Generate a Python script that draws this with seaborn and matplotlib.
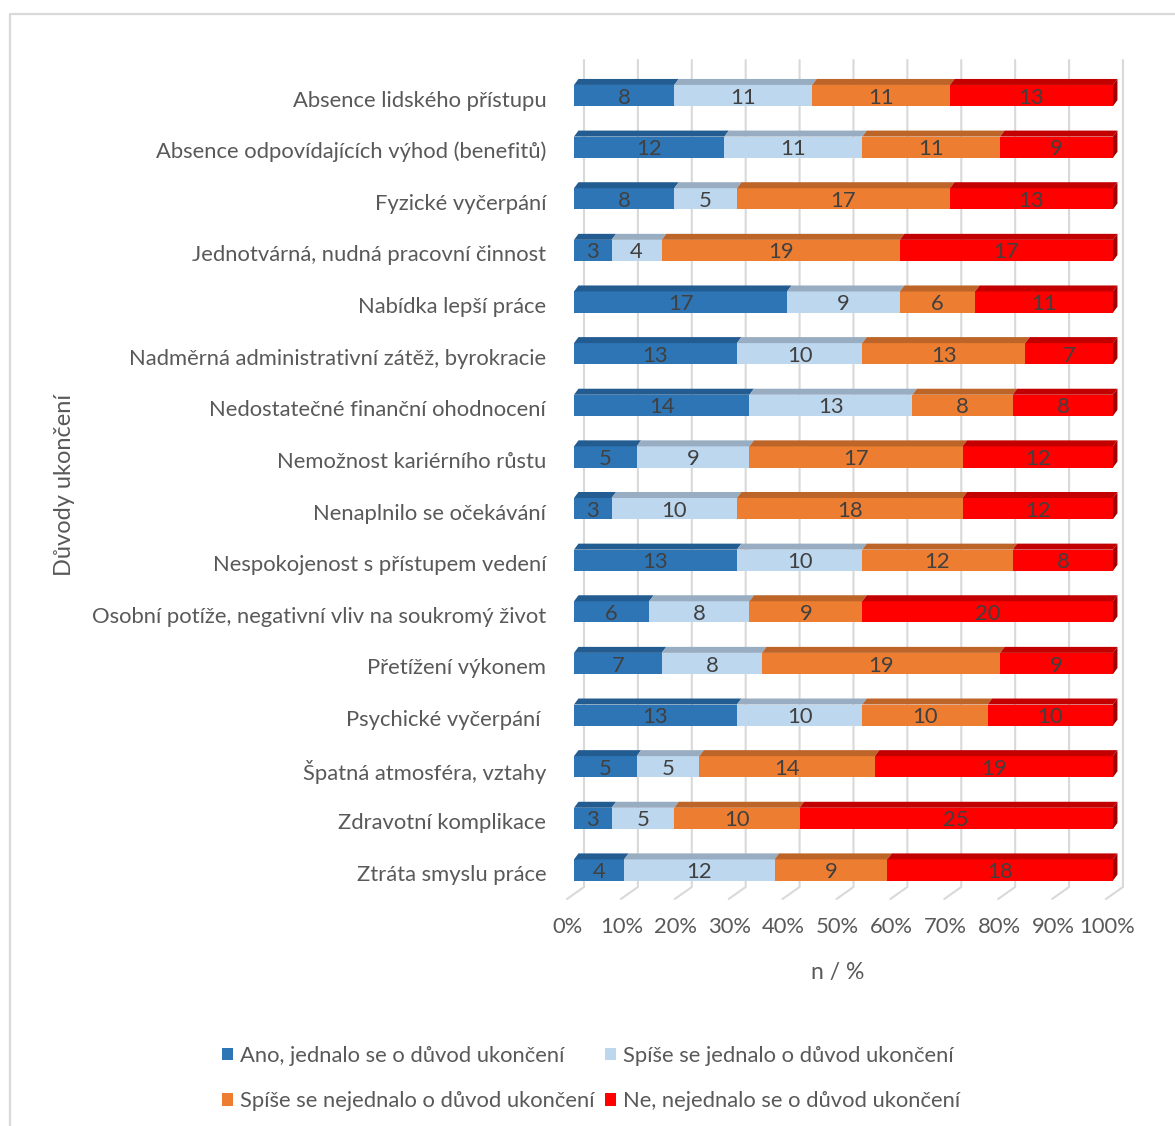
import numpy as np
import pandas as pd
import matplotlib
matplotlib.use("Agg")
import matplotlib.pyplot as plt
import matplotlib.transforms as mtransforms
from matplotlib.patches import Polygon, Patch
from matplotlib.lines import Line2D
import seaborn as sns

# Reasons for ending the job (one bar each)
reasons = [
    "Absence lidského přístupu",
    "Absence odpovídajících výhod (benefitů)",
    "Fyzické vyčerpání",
    "Jednotvárná, nudná pracovní činnost",
    "Nabídka lepší práce",
    "Nadměrná administrativní zátěž, byrokracie",
    "Nedostatečné finanční ohodnocení",
    "Nemožnost kariérního růstu",
    "Nenaplnilo se očekávání",
    "Nespokojenost s přístupem vedení",
    "Osobní potíže, negativní vliv na soukromý život",
    "Přetížení výkonem",
    "Psychické vyčerpání ",
    "Špatná atmosféra, vztahy",
    "Zdravotní komplikace",
    "Ztráta smyslu práce",
]

# Answer counts per reason
ano = [8, 12, 8, 3, 17, 13, 14, 5, 3, 13, 6, 7, 13, 5, 3, 4]
spise_ano = [11, 11, 5, 4, 9, 10, 13, 9, 10, 10, 8, 8, 10, 5, 5, 12]
spise_ne = [11, 11, 17, 19, 6, 13, 8, 17, 18, 12, 9, 19, 10, 14, 10, 9]
ne = [13, 9, 13, 17, 11, 7, 8, 12, 12, 8, 20, 9, 10, 19, 25, 18]

series_names = [
    "Ano, jednalo se o důvod ukončení",
    "Spíše se jednalo o důvod ukončení",
    "Spíše se nejednalo o důvod ukončení",
    "Ne, nejednalo se o důvod ukončení",
]
x_ticks = list(range(0, 101, 10))
x_tick_labels = [f"{v}%" for v in x_ticks]

front_colors = ["#2E75B6", "#BDD7EE", "#ED7D31", "#FF0000"]
top_colors = ["#235C91", "#98ADC1", "#BD6429", "#C20000"]
side_color = "#A20000"
grid_color = "#D9D9D9"
text_color = "#595959"
label_color = "#404040"

FS = 15.8

sns.set_theme(style="white")
plt.rcParams["font.family"] = ["Lato", "DejaVu Sans"]

FIG_W, FIG_H, DPI = 11.75, 11.26, 100
fig = plt.figure(figsize=(FIG_W, FIG_H), dpi=DPI)
fig.patch.set_facecolor("white")
ax_rect = [0.4885, 0.2016, 0.4587, 0.7451]
ax = fig.add_axes(ax_rect)

counts = np.array([ano, spise_ano, spise_ne, ne]).T
pct = counts / counts.sum(axis=1, keepdims=True) * 100
cum = np.cumsum(pct, axis=1)
starts = cum - pct

BAR_W = 0.41
Y_TOP, Y_BOT = -0.688, 15.562

# Stacked bars: draw cumulative layers from the longest to the shortest
for k in reversed(range(4)):
    layer = pd.DataFrame({"reason": reasons, "end": cum[:, k]})
    sns.barplot(data=layer, x="end", y="reason", order=reasons,
                color=front_colors[k], saturation=1, width=BAR_W,
                errorbar=None, orient="h", ax=ax, linewidth=0, zorder=2)

ax.set_xlim(0, 100)
ax.set_ylim(Y_BOT, Y_TOP)

# Pixel -> data unit conversion for the 3D depth effect
ax_w_px = ax_rect[2] * FIG_W * DPI
ax_h_px = ax_rect[3] * FIG_H * DPI
px_x = ax_w_px / 100.0
px_y = ax_h_px / (Y_BOT - Y_TOP)
DX = 4.5 / px_x
DY = 6.0 / px_y

# Back-wall gridlines with a short floor segment
y_knee = (len(reasons) - 1) + 17 / px_y
for v in x_ticks:
    back = v + 10 / px_x
    floor = v - 7 / px_x
    ax.plot([back, back, floor], [Y_TOP, y_knee, Y_BOT], color=grid_color,
            lw=1.5, zorder=0, clip_on=False, solid_joinstyle="miter")

# Top faces of each segment and side face at the end of each bar
for i in range(len(reasons)):
    top = i - BAR_W / 2
    bot = i + BAR_W / 2
    for k in range(4):
        l, r = starts[i, k], cum[i, k]
        ax.add_patch(Polygon([(l, top), (r, top), (r + DX, top - DY), (l + DX, top - DY)],
                             closed=True, facecolor=top_colors[k], edgecolor="none",
                             zorder=2, clip_on=False))
    end = cum[i, -1]
    ax.add_patch(Polygon([(end, top), (end + DX, top - DY), (end + DX, bot - DY), (end, bot)],
                         closed=True, facecolor=side_color, edgecolor="none",
                         zorder=2, clip_on=False))
    for k in range(4):
        ax.text((starts[i, k] + cum[i, k]) / 2, i + 0.04, str(counts[i, k]),
                ha="center", va="center", fontsize=FS, color=label_color, zorder=4)

for s in ax.spines.values():
    s.set_visible(False)
ax.grid(False)

ax.set_xticks(x_ticks)
ax.set_xticklabels(x_tick_labels)
ax.tick_params(axis="x", length=0, pad=13, labelsize=FS, labelcolor=text_color)
ax.tick_params(axis="y", length=0, pad=20, labelsize=FS, labelcolor=text_color)
shift_x = mtransforms.ScaledTranslation(-6 / DPI, 0, fig.dpi_scale_trans)
for lbl in ax.get_xticklabels():
    lbl.set_transform(lbl.get_transform() + shift_x)
shift_y = mtransforms.ScaledTranslation(0, -3 / DPI, fig.dpi_scale_trans)
for lbl in ax.get_yticklabels():
    lbl.set_transform(lbl.get_transform() + shift_y)

ax.set_xlabel("n / %", fontsize=16.5, color=text_color)
ax.xaxis.set_label_coords(0.49, -0.0755)
ax.set_ylabel("Důvody ukončení", fontsize=17, color=text_color)
ax.yaxis.set_label_coords(-0.925, 0.494)

# Legend: two rows of two entries
handles = [Patch(facecolor=c, edgecolor="none") for c in front_colors]
order = [0, 2, 1, 3]
fig.legend([handles[j] for j in order], [series_names[j] for j in order],
           ncol=2, loc="upper center", bbox_to_anchor=(0.503, 0.079),
           frameon=False, fontsize=FS, labelcolor=text_color,
           handlelength=0.5, handleheight=0.5, handletextpad=0.32,
           columnspacing=0.45, labelspacing=1.15, borderaxespad=0)

# Chart area frame
fx = 9.5 / (FIG_W * DPI)
fy = 1 - 13.5 / (FIG_H * DPI)
fig.add_artist(Line2D([fx, fx, 1], [0, fy, fy], color=grid_color, lw=1.6,
                      transform=fig.transFigure))

fig.savefig("out.png", dpi=DPI)
